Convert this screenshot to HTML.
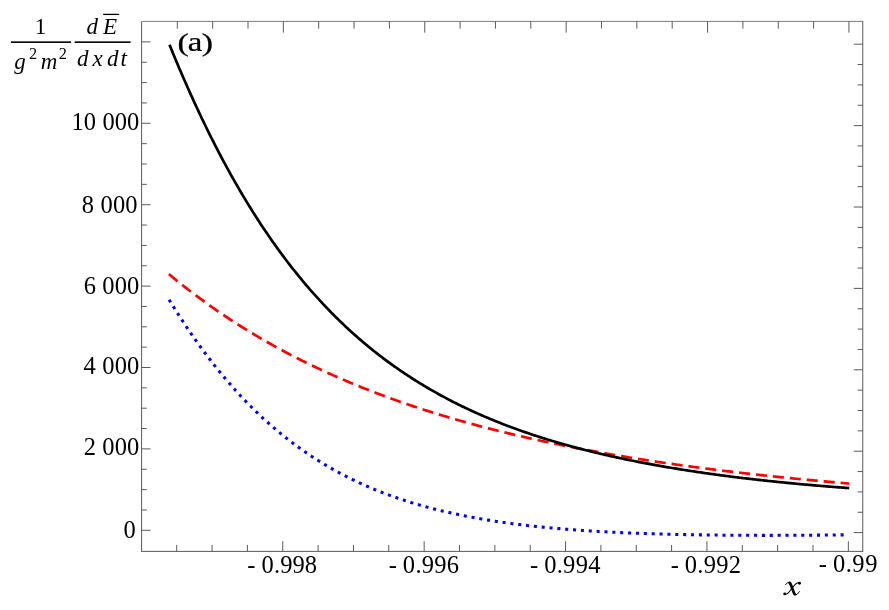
<!DOCTYPE html>
<html><head><meta charset="utf-8"><title>plot</title>
<style>
html,body{margin:0;padding:0;background:#fff;}
svg{display:block;will-change:transform;}
text{font-family:"Liberation Serif",serif;font-size:24.5px;fill:#000;}
.i{font-style:italic;}
.b{font-weight:bold;}
.s{font-size:15.9px;}
</style></head><body>
<svg width="889" height="610" viewBox="0 0 889 610">
<rect width="889" height="610" fill="#fff"/>
<g stroke="#5a5a5a" stroke-width="1" fill="none">
<line x1="141.1" y1="551.4" x2="863.25" y2="551.4"/><line x1="141.6" y1="21.4" x2="141.6" y2="551.4"/><line x1="862.75" y1="21.4" x2="862.75" y2="551.4"/><line x1="142.1" y1="21.4" x2="863.25" y2="21.4" stroke="#7a7a7a"/>
<line x1="176.70" y1="551.4" x2="176.70" y2="544.9"/>
<line x1="177.30" y1="21.4" x2="177.30" y2="28.599999999999998"/>
<line x1="212.05" y1="551.4" x2="212.05" y2="544.9"/>
<line x1="212.65" y1="21.4" x2="212.65" y2="28.599999999999998"/>
<line x1="247.40" y1="551.4" x2="247.40" y2="544.9"/>
<line x1="248.00" y1="21.4" x2="248.00" y2="28.599999999999998"/>
<line x1="282.75" y1="551.4" x2="282.75" y2="541.1999999999999"/>
<line x1="283.35" y1="21.4" x2="283.35" y2="32.599999999999994"/>
<line x1="318.10" y1="551.4" x2="318.10" y2="544.9"/>
<line x1="318.70" y1="21.4" x2="318.70" y2="28.599999999999998"/>
<line x1="353.45" y1="551.4" x2="353.45" y2="544.9"/>
<line x1="354.05" y1="21.4" x2="354.05" y2="28.599999999999998"/>
<line x1="388.80" y1="551.4" x2="388.80" y2="544.9"/>
<line x1="389.40" y1="21.4" x2="389.40" y2="28.599999999999998"/>
<line x1="424.15" y1="551.4" x2="424.15" y2="541.1999999999999"/>
<line x1="424.75" y1="21.4" x2="424.75" y2="32.599999999999994"/>
<line x1="459.50" y1="551.4" x2="459.50" y2="544.9"/>
<line x1="460.10" y1="21.4" x2="460.10" y2="28.599999999999998"/>
<line x1="494.85" y1="551.4" x2="494.85" y2="544.9"/>
<line x1="495.45" y1="21.4" x2="495.45" y2="28.599999999999998"/>
<line x1="530.20" y1="551.4" x2="530.20" y2="544.9"/>
<line x1="530.80" y1="21.4" x2="530.80" y2="28.599999999999998"/>
<line x1="565.55" y1="551.4" x2="565.55" y2="541.1999999999999"/>
<line x1="566.15" y1="21.4" x2="566.15" y2="32.599999999999994"/>
<line x1="600.90" y1="551.4" x2="600.90" y2="544.9"/>
<line x1="601.50" y1="21.4" x2="601.50" y2="28.599999999999998"/>
<line x1="636.25" y1="551.4" x2="636.25" y2="544.9"/>
<line x1="636.85" y1="21.4" x2="636.85" y2="28.599999999999998"/>
<line x1="671.60" y1="551.4" x2="671.60" y2="544.9"/>
<line x1="672.20" y1="21.4" x2="672.20" y2="28.599999999999998"/>
<line x1="706.95" y1="551.4" x2="706.95" y2="541.1999999999999"/>
<line x1="707.55" y1="21.4" x2="707.55" y2="32.599999999999994"/>
<line x1="742.30" y1="551.4" x2="742.30" y2="544.9"/>
<line x1="742.90" y1="21.4" x2="742.90" y2="28.599999999999998"/>
<line x1="777.65" y1="551.4" x2="777.65" y2="544.9"/>
<line x1="778.25" y1="21.4" x2="778.25" y2="28.599999999999998"/>
<line x1="813.00" y1="551.4" x2="813.00" y2="544.9"/>
<line x1="813.60" y1="21.4" x2="813.60" y2="28.599999999999998"/>
<line x1="848.35" y1="551.4" x2="848.35" y2="541.1999999999999"/>
<line x1="848.95" y1="21.4" x2="848.95" y2="32.599999999999994"/>
<line x1="141.6" y1="530.30" x2="150.6" y2="530.30"/>
<line x1="862.75" y1="532.60" x2="853.75" y2="532.60"/>
<line x1="141.6" y1="509.95" x2="146.79999999999998" y2="509.95"/>
<line x1="862.75" y1="512.25" x2="857.55" y2="512.25"/>
<line x1="141.6" y1="489.60" x2="146.79999999999998" y2="489.60"/>
<line x1="862.75" y1="491.90" x2="857.55" y2="491.90"/>
<line x1="141.6" y1="469.25" x2="146.79999999999998" y2="469.25"/>
<line x1="862.75" y1="471.55" x2="857.55" y2="471.55"/>
<line x1="141.6" y1="448.90" x2="150.6" y2="448.90"/>
<line x1="862.75" y1="451.20" x2="853.75" y2="451.20"/>
<line x1="141.6" y1="428.55" x2="146.79999999999998" y2="428.55"/>
<line x1="862.75" y1="430.85" x2="857.55" y2="430.85"/>
<line x1="141.6" y1="408.20" x2="146.79999999999998" y2="408.20"/>
<line x1="862.75" y1="410.50" x2="857.55" y2="410.50"/>
<line x1="141.6" y1="387.85" x2="146.79999999999998" y2="387.85"/>
<line x1="862.75" y1="390.15" x2="857.55" y2="390.15"/>
<line x1="141.6" y1="367.50" x2="150.6" y2="367.50"/>
<line x1="862.75" y1="369.80" x2="853.75" y2="369.80"/>
<line x1="141.6" y1="347.15" x2="146.79999999999998" y2="347.15"/>
<line x1="862.75" y1="349.45" x2="857.55" y2="349.45"/>
<line x1="141.6" y1="326.80" x2="146.79999999999998" y2="326.80"/>
<line x1="862.75" y1="329.10" x2="857.55" y2="329.10"/>
<line x1="141.6" y1="306.45" x2="146.79999999999998" y2="306.45"/>
<line x1="862.75" y1="308.75" x2="857.55" y2="308.75"/>
<line x1="141.6" y1="286.10" x2="150.6" y2="286.10"/>
<line x1="862.75" y1="288.40" x2="853.75" y2="288.40"/>
<line x1="141.6" y1="265.75" x2="146.79999999999998" y2="265.75"/>
<line x1="862.75" y1="268.05" x2="857.55" y2="268.05"/>
<line x1="141.6" y1="245.40" x2="146.79999999999998" y2="245.40"/>
<line x1="862.75" y1="247.70" x2="857.55" y2="247.70"/>
<line x1="141.6" y1="225.05" x2="146.79999999999998" y2="225.05"/>
<line x1="862.75" y1="227.35" x2="857.55" y2="227.35"/>
<line x1="141.6" y1="204.70" x2="150.6" y2="204.70"/>
<line x1="862.75" y1="207.00" x2="853.75" y2="207.00"/>
<line x1="141.6" y1="184.35" x2="146.79999999999998" y2="184.35"/>
<line x1="862.75" y1="186.65" x2="857.55" y2="186.65"/>
<line x1="141.6" y1="164.00" x2="146.79999999999998" y2="164.00"/>
<line x1="862.75" y1="166.30" x2="857.55" y2="166.30"/>
<line x1="141.6" y1="143.65" x2="146.79999999999998" y2="143.65"/>
<line x1="862.75" y1="145.95" x2="857.55" y2="145.95"/>
<line x1="141.6" y1="123.30" x2="150.6" y2="123.30"/>
<line x1="862.75" y1="125.60" x2="853.75" y2="125.60"/>
<line x1="141.6" y1="102.95" x2="146.79999999999998" y2="102.95"/>
<line x1="862.75" y1="105.25" x2="857.55" y2="105.25"/>
<line x1="141.6" y1="82.60" x2="146.79999999999998" y2="82.60"/>
<line x1="862.75" y1="84.90" x2="857.55" y2="84.90"/>
<line x1="141.6" y1="62.25" x2="146.79999999999998" y2="62.25"/>
<line x1="862.75" y1="64.55" x2="857.55" y2="64.55"/>
<line x1="141.6" y1="41.90" x2="150.6" y2="41.90"/>
<line x1="862.75" y1="44.20" x2="853.75" y2="44.20"/>
</g>
<text x="71.46" y="130.2" style="letter-spacing:0.100px">10 000</text>
<text x="81.87" y="212.6" style="letter-spacing:0.159px">8 000</text>
<text x="83.75" y="294.1" style="letter-spacing:0.115px">6 000</text>
<text x="83.61" y="374.1" style="letter-spacing:0.149px">4 000</text>
<text x="83.72" y="454.9" style="letter-spacing:0.121px">2 000</text>
<text x="123.47" y="537.5" style="letter-spacing:0.000px">0</text>
<text x="247.19" y="573.1">-</text><text x="261.57" y="573.1" style="letter-spacing:0.097px">0.998</text>
<text x="388.69" y="572.8">-</text><text x="402.87" y="572.8" style="letter-spacing:0.272px">0.996</text>
<text x="529.99" y="572.8">-</text><text x="544.17" y="572.8" style="letter-spacing:0.296px">0.994</text>
<text x="670.69" y="572.8">-</text><text x="684.87" y="572.8" style="letter-spacing:0.247px">0.992</text>
<text x="818.79" y="571.9">-</text><text x="832.97" y="571.9" style="letter-spacing:0.512px">0.99</text>
<g fill="none" stroke="#000" stroke-linecap="round" stroke-linejoin="round">
<path d="M785.6,584.6 C786.6,583.0 788.0,582.2 789.4,582.3" stroke-width="1.0"/>
<path d="M789.6,582.9 C791.6,584.6 792.6,590.6 794.6,594.2" stroke-width="2.7"/>
<path d="M794.8,594.9 C796.6,595.4 798.2,593.6 799.3,591.6" stroke-width="1.0"/>
<path d="M784.6,594.1 C787.4,595.6 789.6,591.4 791.7,588.6 C793.8,585.8 796.4,581.6 799.6,583.0" stroke-width="1.05"/>
</g>
<circle cx="784.7" cy="593.9" r="1.45" fill="#000"/><circle cx="799.5" cy="583.2" r="1.45" fill="#000"/>
<text transform="translate(177.48,50.5) scale(1.36,1)" style="font-size:24.8px;stroke:#000;stroke-width:0.25px">(</text>
<text transform="translate(187.86,50.8) scale(1.24,1)" style="font-size:26.5px;stroke:#000;stroke-width:0.25px">a</text>
<text transform="translate(201.74,50.5) scale(1.36,1)" style="font-size:24.8px;stroke:#000;stroke-width:0.25px">)</text>
<g>
<text x="34.78" y="33.7" style="font-size:23.0px">1</text>
<rect x="10.9" y="41.35" width="60.2" height="1.6" fill="#000"/>
<rect x="74.7" y="41.35" width="55.9" height="1.6" fill="#000"/>
<text class="i" x="14.18" y="68.7" style="font-size:23.0px">g</text>
<text x="28.96" y="58.5" style="font-size:16.3px">2</text>
<text class="i" x="40.67" y="68.7" style="font-size:23.0px">m</text>
<text x="58.66" y="58.5" style="font-size:16.3px">2</text>
<text class="i" x="86.48" y="33.5" style="font-size:23.0px">d</text>
<text class="i" x="103.05" y="33.5" style="font-size:23.0px">E</text>
<rect x="103.1" y="13.75" width="16.1" height="1.3" fill="#000"/>
<text class="i" x="76.98" y="66.0" style="font-size:23.0px">d</text>
<text class="i" x="92.46" y="66.0" style="font-size:23.0px">x</text>
<text class="i" x="106.98" y="66.0" style="font-size:23.0px">d</text>
<text class="i" x="120.62" y="66.0" style="font-size:23.0px">t</text>
</g>
<path d="M169.10,299.71 L170.46,301.93 L171.82,304.13 L173.18,306.31 L174.53,308.48 L175.89,310.64 L177.25,312.78 L178.61,314.90 L179.97,317.00 L181.33,319.09 L182.69,321.17 L184.04,323.23 L185.40,325.27 L186.76,327.30 L188.12,329.31 L189.48,331.31 L190.84,333.29 L192.19,335.26 L193.55,337.21 L194.91,339.15 L196.27,341.07 L197.63,342.98 L198.99,344.87 L200.35,346.74 L201.70,348.60 L203.06,350.45 L204.42,352.28 L205.78,354.10 L207.14,355.90 L208.50,357.69 L209.86,359.46 L211.21,361.22 L212.57,362.96 L213.93,364.69 L215.29,366.41 L216.65,368.11 L218.01,369.79 L219.37,371.47 L220.72,373.12 L222.08,374.77 L223.44,376.40 L224.80,378.02 L226.16,379.62 L227.52,381.21 L228.87,382.79 L230.23,384.35 L231.59,385.90 L232.95,387.44 L234.31,388.96 L235.67,390.47 L237.03,391.97 L238.38,393.45 L239.74,394.92 L241.10,396.38 L242.46,397.82 L243.82,399.26 L245.18,400.68 L246.54,402.08 L247.89,403.48 L249.25,404.86 L250.61,406.23 L251.97,407.59 L253.33,408.93 L254.69,410.27 L256.05,411.59 L257.40,412.90 L258.76,414.20 L260.12,415.48 L261.48,416.76 L262.84,418.02 L264.20,419.27 L265.55,420.51 L266.91,421.74 L268.27,422.96 L269.63,424.16 L270.99,425.36 L272.35,426.54 L273.71,427.71 L275.06,428.88 L276.42,430.03 L277.78,431.17 L279.14,432.30 L280.50,433.42 L281.86,434.53 L283.22,435.62 L284.57,436.71 L285.93,437.79 L287.29,438.86 L288.65,439.91 L290.01,440.96 L291.37,442.00 L292.73,443.03 L294.08,444.04 L295.44,445.05 L296.80,446.05 L298.16,447.04 L299.52,448.02 L300.88,448.99 L302.23,449.95 L303.59,450.90 L304.95,451.84 L306.31,452.78 L307.67,453.70 L309.03,454.62 L310.39,455.52 L311.74,456.42 L313.10,457.31 L314.46,458.19 L315.82,459.06 L317.18,459.92 L318.54,460.77 L319.90,461.62 L321.25,462.46 L322.61,463.29 L323.97,464.11 L325.33,464.92 L326.69,465.72 L328.05,466.52 L329.41,467.31 L330.76,468.09 L332.12,468.86 L333.48,469.63 L334.84,470.39 L336.20,471.14 L337.56,471.88 L338.91,472.61 L340.27,473.34 L341.63,474.06 L342.99,474.77 L344.35,475.48 L345.71,476.18 L347.07,476.87 L348.42,477.55 L349.78,478.23 L351.14,478.90 L352.50,479.57 L353.86,480.22 L355.22,480.87 L356.58,481.52 L357.93,482.15 L359.29,482.78 L360.65,483.41 L362.01,484.03 L363.37,484.64 L364.73,485.24 L366.08,485.84 L367.44,486.43 L368.80,487.02 L370.16,487.60 L371.52,488.17 L372.88,488.74 L374.24,489.30 L375.59,489.86 L376.95,490.41 L378.31,490.95 L379.67,491.49 L381.03,492.03 L382.39,492.55 L383.75,493.08 L385.10,493.59 L386.46,494.10 L387.82,494.61 L389.18,495.11 L390.54,495.61 L391.90,496.10 L393.26,496.58 L394.61,497.06 L395.97,497.53 L397.33,498.00 L398.69,498.47 L400.05,498.93 L401.41,499.38 L402.76,499.83 L404.12,500.28 L405.48,500.72 L406.84,501.15 L408.20,501.58 L409.56,502.01 L410.92,502.43 L412.27,502.85 L413.63,503.26 L414.99,503.67 L416.35,504.07 L417.71,504.47 L419.07,504.86 L420.43,505.25 L421.78,505.64 L423.14,506.02 L424.50,506.40 L425.86,506.77 L427.22,507.14 L428.58,507.51 L429.94,507.87 L431.29,508.23 L432.65,508.58 L434.01,508.93 L435.37,509.28 L436.73,509.62 L438.09,509.96 L439.44,510.29 L440.80,510.62 L442.16,510.95 L443.52,511.27 L444.88,511.59 L446.24,511.91 L447.60,512.22 L448.95,512.53 L450.31,512.84 L451.67,513.14 L453.03,513.44 L454.39,513.73 L455.75,514.03 L457.11,514.31 L458.46,514.60 L459.82,514.88 L461.18,515.16 L462.54,515.44 L463.90,515.71 L465.26,515.98 L466.62,516.25 L467.97,516.51 L469.33,516.77 L470.69,517.03 L472.05,517.28 L473.41,517.54 L474.77,517.79 L476.12,518.03 L477.48,518.27 L478.84,518.52 L480.20,518.75 L481.56,518.99 L482.92,519.22 L484.28,519.45 L485.63,519.68 L486.99,519.90 L488.35,520.12 L489.71,520.34 L491.07,520.56 L492.43,520.77 L493.79,520.98 L495.14,521.19 L496.50,521.40 L497.86,521.60 L499.22,521.80 L500.58,522.00 L501.94,522.20 L503.30,522.40 L504.65,522.59 L506.01,522.78 L507.37,522.97 L508.73,523.15 L510.09,523.33 L511.45,523.51 L512.80,523.69 L514.16,523.87 L515.52,524.05 L516.88,524.22 L518.24,524.39 L519.60,524.56 L520.96,524.72 L522.31,524.89 L523.67,525.05 L525.03,525.21 L526.39,525.37 L527.75,525.52 L529.11,525.68 L530.47,525.83 L531.82,525.98 L533.18,526.13 L534.54,526.28 L535.90,526.42 L537.26,526.57 L538.62,526.71 L539.98,526.85 L541.33,526.99 L542.69,527.12 L544.05,527.26 L545.41,527.39 L546.77,527.52 L548.13,527.65 L549.48,527.78 L550.84,527.91 L552.20,528.03 L553.56,528.15 L554.92,528.28 L556.28,528.40 L557.64,528.51 L558.99,528.63 L560.35,528.75 L561.71,528.86 L563.07,528.97 L564.43,529.08 L565.79,529.19 L567.15,529.30 L568.50,529.41 L569.86,529.51 L571.22,529.62 L572.58,529.72 L573.94,529.82 L575.30,529.92 L576.66,530.02 L578.01,530.12 L579.37,530.21 L580.73,530.31 L582.09,530.40 L583.45,530.49 L584.81,530.58 L586.16,530.67 L587.52,530.76 L588.88,530.85 L590.24,530.94 L591.60,531.02 L592.96,531.10 L594.32,531.19 L595.67,531.27 L597.03,531.35 L598.39,531.43 L599.75,531.51 L601.11,531.58 L602.47,531.66 L603.83,531.73 L605.18,531.81 L606.54,531.88 L607.90,531.95 L609.26,532.02 L610.62,532.09 L611.98,532.16 L613.34,532.23 L614.69,532.29 L616.05,532.36 L617.41,532.42 L618.77,532.49 L620.13,532.55 L621.49,532.61 L622.84,532.67 L624.20,532.73 L625.56,532.79 L626.92,532.85 L628.28,532.91 L629.64,532.96 L631.00,533.02 L632.35,533.07 L633.71,533.13 L635.07,533.18 L636.43,533.23 L637.79,533.28 L639.15,533.33 L640.51,533.38 L641.86,533.43 L643.22,533.48 L644.58,533.53 L645.94,533.57 L647.30,533.62 L648.66,533.66 L650.02,533.71 L651.37,533.75 L652.73,533.79 L654.09,533.84 L655.45,533.88 L656.81,533.92 L658.17,533.96 L659.52,534.00 L660.88,534.03 L662.24,534.07 L663.60,534.11 L664.96,534.14 L666.32,534.18 L667.68,534.22 L669.03,534.25 L670.39,534.28 L671.75,534.32 L673.11,534.35 L674.47,534.38 L675.83,534.41 L677.19,534.44 L678.54,534.47 L679.90,534.50 L681.26,534.53 L682.62,534.56 L683.98,534.59 L685.34,534.61 L686.69,534.64 L688.05,534.67 L689.41,534.69 L690.77,534.72 L692.13,534.74 L693.49,534.76 L694.85,534.79 L696.20,534.81 L697.56,534.83 L698.92,534.85 L700.28,534.87 L701.64,534.89 L703.00,534.91 L704.36,534.93 L705.71,534.95 L707.07,534.97 L708.43,534.99 L709.79,535.01 L711.15,535.02 L712.51,535.04 L713.87,535.05 L715.22,535.07 L716.58,535.09 L717.94,535.10 L719.30,535.11 L720.66,535.13 L722.02,535.14 L723.37,535.15 L724.73,535.17 L726.09,535.18 L727.45,535.19 L728.81,535.20 L730.17,535.21 L731.53,535.22 L732.88,535.23 L734.24,535.24 L735.60,535.25 L736.96,535.26 L738.32,535.27 L739.68,535.27 L741.04,535.28 L742.39,535.29 L743.75,535.29 L745.11,535.30 L746.47,535.31 L747.83,535.31 L749.19,535.32 L750.55,535.32 L751.90,535.33 L753.26,535.33 L754.62,535.33 L755.98,535.34 L757.34,535.34 L758.70,535.34 L760.05,535.34 L761.41,535.35 L762.77,535.35 L764.13,535.35 L765.49,535.35 L766.85,535.35 L768.21,535.35 L769.56,535.35 L770.92,535.35 L772.28,535.35 L773.64,535.35 L775.00,535.34 L776.36,535.34 L777.72,535.34 L779.07,535.34 L780.43,535.33 L781.79,535.33 L783.15,535.33 L784.51,535.32 L785.87,535.32 L787.23,535.31 L788.58,535.31 L789.94,535.30 L791.30,535.30 L792.66,535.29 L794.02,535.29 L795.38,535.28 L796.73,535.27 L798.09,535.27 L799.45,535.26 L800.81,535.25 L802.17,535.24 L803.53,535.24 L804.89,535.23 L806.24,535.22 L807.60,535.21 L808.96,535.20 L810.32,535.19 L811.68,535.18 L813.04,535.17 L814.40,535.16 L815.75,535.15 L817.11,535.14 L818.47,535.13 L819.83,535.11 L821.19,535.10 L822.55,535.09 L823.91,535.08 L825.26,535.06 L826.62,535.05 L827.98,535.04 L829.34,535.02 L830.70,535.01 L832.06,535.00 L833.41,534.98 L834.77,534.97 L836.13,534.95 L837.49,534.94 L838.85,534.92 L840.21,534.90 L841.57,534.89 L842.92,534.87 L844.28,534.85 L845.64,534.84 L847.00,534.82" fill="none" stroke="#0000ff" stroke-width="3.05" stroke-dasharray="3.05 4.823"/>
<path d="M168.90,274.15 L170.26,275.28 L171.63,276.41 L172.99,277.53 L174.35,278.64 L175.72,279.75 L177.08,280.85 L178.44,281.94 L179.81,283.03 L181.17,284.12 L182.54,285.19 L183.90,286.27 L185.26,287.33 L186.63,288.39 L187.99,289.45 L189.35,290.50 L190.72,291.54 L192.08,292.58 L193.44,293.61 L194.81,294.64 L196.17,295.66 L197.53,296.68 L198.90,297.69 L200.26,298.69 L201.62,299.69 L202.99,300.69 L204.35,301.68 L205.72,302.66 L207.08,303.64 L208.44,304.61 L209.81,305.58 L211.17,306.55 L212.53,307.50 L213.90,308.46 L215.26,309.41 L216.62,310.35 L217.99,311.29 L219.35,312.22 L220.71,313.15 L222.08,314.07 L223.44,314.99 L224.80,315.90 L226.17,316.81 L227.53,317.72 L228.90,318.62 L230.26,319.51 L231.62,320.40 L232.99,321.29 L234.35,322.17 L235.71,323.04 L237.08,323.92 L238.44,324.78 L239.80,325.65 L241.17,326.50 L242.53,327.36 L243.89,328.21 L245.26,329.05 L246.62,329.89 L247.98,330.73 L249.35,331.56 L250.71,332.39 L252.08,333.21 L253.44,334.03 L254.80,334.84 L256.17,335.65 L257.53,336.46 L258.89,337.26 L260.26,338.06 L261.62,338.85 L262.98,339.64 L264.35,340.43 L265.71,341.21 L267.07,341.99 L268.44,342.76 L269.80,343.53 L271.16,344.29 L272.53,345.06 L273.89,345.81 L275.26,346.57 L276.62,347.32 L277.98,348.06 L279.35,348.80 L280.71,349.54 L282.07,350.28 L283.44,351.01 L284.80,351.74 L286.16,352.46 L287.53,353.18 L288.89,353.90 L290.25,354.61 L291.62,355.32 L292.98,356.02 L294.34,356.72 L295.71,357.42 L297.07,358.12 L298.44,358.81 L299.80,359.50 L301.16,360.18 L302.53,360.86 L303.89,361.54 L305.25,362.21 L306.62,362.88 L307.98,363.55 L309.34,364.21 L310.71,364.87 L312.07,365.53 L313.43,366.18 L314.80,366.84 L316.16,367.48 L317.52,368.13 L318.89,368.77 L320.25,369.40 L321.62,370.04 L322.98,370.67 L324.34,371.30 L325.71,371.92 L327.07,372.55 L328.43,373.16 L329.80,373.78 L331.16,374.39 L332.52,375.00 L333.89,375.61 L335.25,376.21 L336.61,376.81 L337.98,377.41 L339.34,378.00 L340.70,378.60 L342.07,379.18 L343.43,379.77 L344.79,380.35 L346.16,380.93 L347.52,381.51 L348.89,382.08 L350.25,382.66 L351.61,383.22 L352.98,383.79 L354.34,384.35 L355.70,384.91 L357.07,385.47 L358.43,386.03 L359.79,386.58 L361.16,387.13 L362.52,387.67 L363.88,388.22 L365.25,388.76 L366.61,389.30 L367.97,389.83 L369.34,390.37 L370.70,390.90 L372.07,391.43 L373.43,391.95 L374.79,392.48 L376.16,393.00 L377.52,393.51 L378.88,394.03 L380.25,394.54 L381.61,395.05 L382.97,395.56 L384.34,396.07 L385.70,396.57 L387.06,397.07 L388.43,397.57 L389.79,398.07 L391.15,398.56 L392.52,399.05 L393.88,399.54 L395.25,400.03 L396.61,400.51 L397.97,400.99 L399.34,401.47 L400.70,401.95 L402.06,402.42 L403.43,402.90 L404.79,403.37 L406.15,403.83 L407.52,404.30 L408.88,404.76 L410.24,405.23 L411.61,405.68 L412.97,406.14 L414.33,406.60 L415.70,407.05 L417.06,407.50 L418.43,407.95 L419.79,408.39 L421.15,408.84 L422.52,409.28 L423.88,409.72 L425.24,410.16 L426.61,410.59 L427.97,411.03 L429.33,411.46 L430.70,411.89 L432.06,412.32 L433.42,412.74 L434.79,413.17 L436.15,413.59 L437.51,414.01 L438.88,414.42 L440.24,414.84 L441.61,415.25 L442.97,415.67 L444.33,416.08 L445.70,416.48 L447.06,416.89 L448.42,417.29 L449.79,417.70 L451.15,418.10 L452.51,418.49 L453.88,418.89 L455.24,419.29 L456.60,419.68 L457.97,420.07 L459.33,420.46 L460.69,420.85 L462.06,421.23 L463.42,421.62 L464.79,422.00 L466.15,422.38 L467.51,422.76 L468.88,423.13 L470.24,423.51 L471.60,423.88 L472.97,424.25 L474.33,424.62 L475.69,424.99 L477.06,425.36 L478.42,425.72 L479.78,426.09 L481.15,426.45 L482.51,426.81 L483.87,427.16 L485.24,427.52 L486.60,427.88 L487.97,428.23 L489.33,428.58 L490.69,428.93 L492.06,429.28 L493.42,429.63 L494.78,429.97 L496.15,430.31 L497.51,430.66 L498.87,431.00 L500.24,431.34 L501.60,431.67 L502.96,432.01 L504.33,432.34 L505.69,432.68 L507.05,433.01 L508.42,433.34 L509.78,433.67 L511.15,433.99 L512.51,434.32 L513.87,434.64 L515.24,434.96 L516.60,435.28 L517.96,435.60 L519.33,435.92 L520.69,436.24 L522.05,436.55 L523.42,436.87 L524.78,437.18 L526.14,437.49 L527.51,437.80 L528.87,438.11 L530.23,438.41 L531.60,438.72 L532.96,439.02 L534.33,439.33 L535.69,439.63 L537.05,439.93 L538.42,440.23 L539.78,440.52 L541.14,440.82 L542.51,441.11 L543.87,441.41 L545.23,441.70 L546.60,441.99 L547.96,442.28 L549.32,442.57 L550.69,442.85 L552.05,443.14 L553.41,443.42 L554.78,443.71 L556.14,443.99 L557.51,444.27 L558.87,444.55 L560.23,444.83 L561.60,445.10 L562.96,445.38 L564.32,445.65 L565.69,445.93 L567.05,446.20 L568.41,446.47 L569.78,446.74 L571.14,447.01 L572.50,447.27 L573.87,447.54 L575.23,447.80 L576.59,448.07 L577.96,448.33 L579.32,448.59 L580.69,448.85 L582.05,449.11 L583.41,449.37 L584.78,449.63 L586.14,449.88 L587.50,450.14 L588.87,450.39 L590.23,450.64 L591.59,450.89 L592.96,451.14 L594.32,451.39 L595.68,451.64 L597.05,451.89 L598.41,452.13 L599.77,452.38 L601.14,452.62 L602.50,452.86 L603.87,453.11 L605.23,453.35 L606.59,453.59 L607.96,453.82 L609.32,454.06 L610.68,454.30 L612.05,454.53 L613.41,454.77 L614.77,455.00 L616.14,455.23 L617.50,455.47 L618.86,455.70 L620.23,455.93 L621.59,456.15 L622.95,456.38 L624.32,456.61 L625.68,456.83 L627.05,457.06 L628.41,457.28 L629.77,457.50 L631.14,457.73 L632.50,457.95 L633.86,458.17 L635.23,458.39 L636.59,458.60 L637.95,458.82 L639.32,459.04 L640.68,459.25 L642.04,459.47 L643.41,459.68 L644.77,459.89 L646.13,460.10 L647.50,460.31 L648.86,460.52 L650.23,460.73 L651.59,460.94 L652.95,461.15 L654.32,461.35 L655.68,461.56 L657.04,461.76 L658.41,461.97 L659.77,462.17 L661.13,462.37 L662.50,462.57 L663.86,462.77 L665.22,462.97 L666.59,463.17 L667.95,463.37 L669.31,463.57 L670.68,463.76 L672.04,463.96 L673.41,464.15 L674.77,464.34 L676.13,464.54 L677.50,464.73 L678.86,464.92 L680.22,465.11 L681.59,465.30 L682.95,465.49 L684.31,465.68 L685.68,465.86 L687.04,466.05 L688.40,466.24 L689.77,466.42 L691.13,466.61 L692.49,466.79 L693.86,466.97 L695.22,467.15 L696.58,467.33 L697.95,467.52 L699.31,467.69 L700.68,467.87 L702.04,468.05 L703.40,468.23 L704.77,468.41 L706.13,468.58 L707.49,468.76 L708.86,468.93 L710.22,469.11 L711.58,469.28 L712.95,469.45 L714.31,469.62 L715.67,469.79 L717.04,469.96 L718.40,470.13 L719.76,470.30 L721.13,470.47 L722.49,470.64 L723.86,470.80 L725.22,470.97 L726.58,471.14 L727.95,471.30 L729.31,471.46 L730.67,471.63 L732.04,471.79 L733.40,471.95 L734.76,472.11 L736.13,472.28 L737.49,472.44 L738.85,472.60 L740.22,472.75 L741.58,472.91 L742.94,473.07 L744.31,473.23 L745.67,473.38 L747.04,473.54 L748.40,473.69 L749.76,473.85 L751.13,474.00 L752.49,474.15 L753.85,474.31 L755.22,474.46 L756.58,474.61 L757.94,474.76 L759.31,474.91 L760.67,475.06 L762.03,475.21 L763.40,475.36 L764.76,475.51 L766.12,475.65 L767.49,475.80 L768.85,475.95 L770.22,476.09 L771.58,476.24 L772.94,476.38 L774.31,476.52 L775.67,476.67 L777.03,476.81 L778.40,476.95 L779.76,477.09 L781.12,477.23 L782.49,477.37 L783.85,477.51 L785.21,477.65 L786.58,477.79 L787.94,477.93 L789.30,478.07 L790.67,478.20 L792.03,478.34 L793.40,478.48 L794.76,478.61 L796.12,478.75 L797.49,478.88 L798.85,479.01 L800.21,479.15 L801.58,479.28 L802.94,479.41 L804.30,479.54 L805.67,479.67 L807.03,479.80 L808.39,479.93 L809.76,480.06 L811.12,480.19 L812.48,480.32 L813.85,480.45 L815.21,480.58 L816.58,480.70 L817.94,480.83 L819.30,480.96 L820.67,481.08 L822.03,481.21 L823.39,481.33 L824.76,481.46 L826.12,481.58 L827.48,481.70 L828.85,481.83 L830.21,481.95 L831.57,482.07 L832.94,482.19 L834.30,482.31 L835.66,482.43 L837.03,482.55 L838.39,482.67 L839.76,482.79 L841.12,482.91 L842.48,483.03 L843.85,483.14 L845.21,483.26 L846.57,483.38 L847.94,483.49 L849.30,483.61" fill="none" stroke="#ff0000" stroke-width="2.7" stroke-dasharray="11.1 5.913"/>
<path d="M169.50,44.71 L170.86,48.06 L172.22,51.38 L173.59,54.68 L174.95,57.96 L176.31,61.22 L177.67,64.46 L179.03,67.67 L180.40,70.87 L181.76,74.04 L183.12,77.19 L184.48,80.32 L185.85,83.42 L187.21,86.51 L188.57,89.57 L189.93,92.62 L191.29,95.64 L192.66,98.64 L194.02,101.62 L195.38,104.58 L196.74,107.52 L198.10,110.44 L199.47,113.34 L200.83,116.22 L202.19,119.07 L203.55,121.91 L204.92,124.73 L206.28,127.52 L207.64,130.30 L209.00,133.06 L210.36,135.80 L211.73,138.51 L213.09,141.21 L214.45,143.89 L215.81,146.55 L217.17,149.19 L218.54,151.81 L219.90,154.41 L221.26,157.00 L222.62,159.56 L223.98,162.11 L225.35,164.63 L226.71,167.14 L228.07,169.63 L229.43,172.10 L230.80,174.56 L232.16,176.99 L233.52,179.41 L234.88,181.81 L236.24,184.19 L237.61,186.55 L238.97,188.90 L240.33,191.23 L241.69,193.54 L243.05,195.84 L244.42,198.11 L245.78,200.37 L247.14,202.62 L248.50,204.84 L249.87,207.05 L251.23,209.24 L252.59,211.42 L253.95,213.58 L255.31,215.72 L256.68,217.85 L258.04,219.96 L259.40,222.06 L260.76,224.14 L262.12,226.20 L263.49,228.25 L264.85,230.28 L266.21,232.30 L267.57,234.30 L268.94,236.29 L270.30,238.26 L271.66,240.21 L273.02,242.15 L274.38,244.08 L275.75,245.99 L277.11,247.89 L278.47,249.77 L279.83,251.64 L281.19,253.49 L282.56,255.33 L283.92,257.15 L285.28,258.97 L286.64,260.76 L288.00,262.55 L289.37,264.31 L290.73,266.07 L292.09,267.81 L293.45,269.54 L294.82,271.26 L296.18,272.96 L297.54,274.65 L298.90,276.32 L300.26,277.98 L301.63,279.63 L302.99,281.27 L304.35,282.89 L305.71,284.51 L307.07,286.10 L308.44,287.69 L309.80,289.27 L311.16,290.83 L312.52,292.38 L313.89,293.91 L315.25,295.44 L316.61,296.95 L317.97,298.46 L319.33,299.95 L320.70,301.43 L322.06,302.89 L323.42,304.35 L324.78,305.79 L326.14,307.23 L327.51,308.65 L328.87,310.06 L330.23,311.46 L331.59,312.85 L332.95,314.23 L334.32,315.59 L335.68,316.95 L337.04,318.30 L338.40,319.63 L339.77,320.96 L341.13,322.27 L342.49,323.58 L343.85,324.87 L345.21,326.16 L346.58,327.43 L347.94,328.70 L349.30,329.95 L350.66,331.20 L352.02,332.43 L353.39,333.66 L354.75,334.87 L356.11,336.08 L357.47,337.28 L358.84,338.46 L360.20,339.64 L361.56,340.81 L362.92,341.97 L364.28,343.12 L365.65,344.26 L367.01,345.40 L368.37,346.52 L369.73,347.64 L371.09,348.75 L372.46,349.84 L373.82,350.93 L375.18,352.01 L376.54,353.09 L377.91,354.15 L379.27,355.21 L380.63,356.26 L381.99,357.30 L383.35,358.33 L384.72,359.35 L386.08,360.37 L387.44,361.38 L388.80,362.38 L390.16,363.37 L391.53,364.36 L392.89,365.33 L394.25,366.30 L395.61,367.27 L396.97,368.22 L398.34,369.17 L399.70,370.11 L401.06,371.04 L402.42,371.97 L403.79,372.89 L405.15,373.80 L406.51,374.70 L407.87,375.60 L409.23,376.49 L410.60,377.38 L411.96,378.25 L413.32,379.12 L414.68,379.99 L416.04,380.84 L417.41,381.69 L418.77,382.54 L420.13,383.38 L421.49,384.21 L422.86,385.03 L424.22,385.85 L425.58,386.66 L426.94,387.47 L428.30,388.27 L429.67,389.06 L431.03,389.85 L432.39,390.63 L433.75,391.41 L435.11,392.18 L436.48,392.94 L437.84,393.70 L439.20,394.46 L440.56,395.20 L441.92,395.94 L443.29,396.68 L444.65,397.41 L446.01,398.13 L447.37,398.85 L448.74,399.57 L450.10,400.28 L451.46,400.98 L452.82,401.68 L454.18,402.37 L455.55,403.06 L456.91,403.74 L458.27,404.42 L459.63,405.09 L460.99,405.76 L462.36,406.42 L463.72,407.07 L465.08,407.73 L466.44,408.37 L467.81,409.02 L469.17,409.65 L470.53,410.29 L471.89,410.92 L473.25,411.54 L474.62,412.16 L475.98,412.77 L477.34,413.38 L478.70,413.99 L480.06,414.59 L481.43,415.19 L482.79,415.78 L484.15,416.37 L485.51,416.95 L486.87,417.53 L488.24,418.10 L489.60,418.67 L490.96,419.24 L492.32,419.80 L493.69,420.36 L495.05,420.92 L496.41,421.47 L497.77,422.01 L499.13,422.55 L500.50,423.09 L501.86,423.63 L503.22,424.16 L504.58,424.68 L505.94,425.21 L507.31,425.72 L508.67,426.24 L510.03,426.75 L511.39,427.26 L512.76,427.76 L514.12,428.26 L515.48,428.76 L516.84,429.25 L518.20,429.74 L519.57,430.23 L520.93,430.71 L522.29,431.19 L523.65,431.67 L525.01,432.14 L526.38,432.61 L527.74,433.08 L529.10,433.54 L530.46,434.00 L531.83,434.45 L533.19,434.91 L534.55,435.35 L535.91,435.80 L537.27,436.24 L538.64,436.68 L540.00,437.12 L541.36,437.56 L542.72,437.99 L544.08,438.41 L545.45,438.84 L546.81,439.26 L548.17,439.68 L549.53,440.09 L550.89,440.51 L552.26,440.92 L553.62,441.33 L554.98,441.73 L556.34,442.13 L557.71,442.53 L559.07,442.93 L560.43,443.32 L561.79,443.71 L563.15,444.10 L564.52,444.48 L565.88,444.87 L567.24,445.24 L568.60,445.62 L569.96,446.00 L571.33,446.37 L572.69,446.74 L574.05,447.11 L575.41,447.47 L576.78,447.83 L578.14,448.19 L579.50,448.55 L580.86,448.90 L582.22,449.26 L583.59,449.60 L584.95,449.95 L586.31,450.30 L587.67,450.64 L589.03,450.98 L590.40,451.32 L591.76,451.65 L593.12,451.99 L594.48,452.32 L595.84,452.65 L597.21,452.98 L598.57,453.30 L599.93,453.62 L601.29,453.94 L602.66,454.26 L604.02,454.58 L605.38,454.89 L606.74,455.20 L608.10,455.51 L609.47,455.82 L610.83,456.13 L612.19,456.43 L613.55,456.73 L614.91,457.03 L616.28,457.33 L617.64,457.62 L619.00,457.92 L620.36,458.21 L621.73,458.50 L623.09,458.79 L624.45,459.07 L625.81,459.36 L627.17,459.64 L628.54,459.92 L629.90,460.20 L631.26,460.47 L632.62,460.75 L633.98,461.02 L635.35,461.29 L636.71,461.56 L638.07,461.83 L639.43,462.10 L640.79,462.36 L642.16,462.62 L643.52,462.89 L644.88,463.15 L646.24,463.40 L647.61,463.66 L648.97,463.91 L650.33,464.17 L651.69,464.42 L653.05,464.67 L654.42,464.91 L655.78,465.16 L657.14,465.40 L658.50,465.65 L659.86,465.89 L661.23,466.13 L662.59,466.37 L663.95,466.60 L665.31,466.84 L666.68,467.07 L668.04,467.31 L669.40,467.54 L670.76,467.77 L672.12,467.99 L673.49,468.22 L674.85,468.45 L676.21,468.67 L677.57,468.89 L678.93,469.11 L680.30,469.33 L681.66,469.55 L683.02,469.77 L684.38,469.98 L685.75,470.19 L687.11,470.41 L688.47,470.62 L689.83,470.83 L691.19,471.04 L692.56,471.24 L693.92,471.45 L695.28,471.65 L696.64,471.86 L698.00,472.06 L699.37,472.26 L700.73,472.46 L702.09,472.66 L703.45,472.86 L704.81,473.05 L706.18,473.25 L707.54,473.44 L708.90,473.63 L710.26,473.82 L711.63,474.01 L712.99,474.20 L714.35,474.39 L715.71,474.57 L717.07,474.76 L718.44,474.94 L719.80,475.13 L721.16,475.31 L722.52,475.49 L723.88,475.67 L725.25,475.84 L726.61,476.02 L727.97,476.20 L729.33,476.37 L730.70,476.55 L732.06,476.72 L733.42,476.89 L734.78,477.06 L736.14,477.23 L737.51,477.40 L738.87,477.57 L740.23,477.73 L741.59,477.90 L742.95,478.06 L744.32,478.23 L745.68,478.39 L747.04,478.55 L748.40,478.71 L749.76,478.87 L751.13,479.03 L752.49,479.18 L753.85,479.34 L755.21,479.49 L756.58,479.65 L757.94,479.80 L759.30,479.95 L760.66,480.11 L762.02,480.26 L763.39,480.40 L764.75,480.55 L766.11,480.70 L767.47,480.85 L768.83,480.99 L770.20,481.14 L771.56,481.28 L772.92,481.42 L774.28,481.57 L775.65,481.71 L777.01,481.85 L778.37,481.99 L779.73,482.13 L781.09,482.26 L782.46,482.40 L783.82,482.53 L785.18,482.67 L786.54,482.80 L787.90,482.94 L789.27,483.07 L790.63,483.20 L791.99,483.33 L793.35,483.46 L794.72,483.59 L796.08,483.72 L797.44,483.85 L798.80,483.97 L800.16,484.10 L801.53,484.22 L802.89,484.35 L804.25,484.47 L805.61,484.59 L806.97,484.71 L808.34,484.83 L809.70,484.95 L811.06,485.07 L812.42,485.19 L813.78,485.31 L815.15,485.42 L816.51,485.54 L817.87,485.66 L819.23,485.77 L820.60,485.88 L821.96,486.00 L823.32,486.11 L824.68,486.22 L826.04,486.33 L827.41,486.44 L828.77,486.55 L830.13,486.66 L831.49,486.76 L832.85,486.87 L834.22,486.98 L835.58,487.08 L836.94,487.19 L838.30,487.29 L839.67,487.39 L841.03,487.50 L842.39,487.60 L843.75,487.70 L845.11,487.80 L846.48,487.90 L847.84,488.00 L849.20,488.09" fill="none" stroke="#000" stroke-width="2.7"/>
</svg></body></html>
